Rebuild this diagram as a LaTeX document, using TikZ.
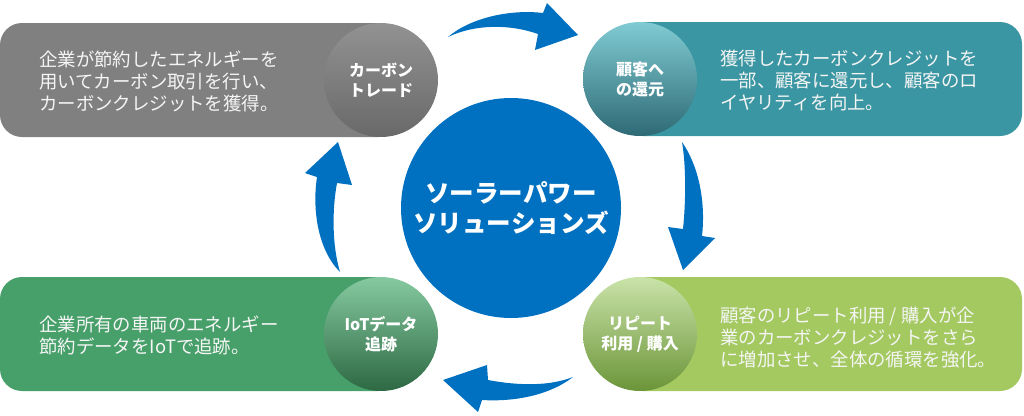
\documentclass[tikz,border=0pt]{standalone}
\usepackage{fontspec}
\setmainfont{Noto Sans CJK JP}
\definecolor{cblue}{HTML}{0070C0}
\definecolor{gpill}{HTML}{808080}
\definecolor{gtop}{HTML}{929292}
\definecolor{gbot}{HTML}{696969}
\definecolor{tpill}{HTML}{3A96A2}
\definecolor{ttop}{HTML}{80CBD3}
\definecolor{tmid}{HTML}{429FAA}
\definecolor{tbot}{HTML}{2E6A75}
\definecolor{ipill}{HTML}{47A06A}
\definecolor{itop}{HTML}{86C9A0}
\definecolor{imid}{HTML}{4DA470}
\definecolor{ibot}{HTML}{2D6943}
\definecolor{lpill}{HTML}{A3C960}
\definecolor{ltop}{HTML}{CAE3A9}
\definecolor{lmid}{HTML}{A4C865}
\definecolor{lbot}{HTML}{6B9539}
\begin{document}
\begin{tikzpicture}[x=0.75pt,y=-0.75pt,
  pill/.style={rounded corners=16.5pt},
  badge/.style={circle,inner sep=0pt,minimum size=85.5pt,text=white,
    font=\bfseries\fontsize{12}{15}\selectfont,align=center},
  body/.style={anchor=west,align=left,inner sep=0pt,text=white!96!black,
    font=\fontsize{13.8}{16.5}\selectfont},
  flow/.style={fill=cblue}]
\useasboundingbox (0,0) rectangle (1024,415);

% pills
\fill[pill,gpill] (0,23) rectangle (400,137);
\fill[pill,tpill] (621,22) rectangle (1022,136);
\fill[pill,ipill] (0,277) rectangle (400,391);
\fill[pill,lpill] (621,277) rectangle (1022,391);

% badges
\node[badge,top color=gtop,bottom color=gbot] (carbon) at (381,80) {カーボン\\トレード};
\node[badge,top color=ttop,middle color=tmid,bottom color=tbot] (refund) at (640,79) {顧客へ\\の還元};
\node[badge,top color=itop,middle color=imid,bottom color=ibot] (iot) at (381,334) {IoTデータ\\追跡};
\node[badge,top color=ltop,middle color=lmid,bottom color=lbot] (repeat) at (640,334) {リピート\\利用 / 購入};

% body texts
\node[body] (t1) at (39,81) {企業が節約したエネルギーを\\用いてカーボン取引を行い、\\カーボンクレジットを獲得。};
\node[body] (t2) at (720,80) {獲得したカーボンクレジットを\\一部、顧客に還元し、顧客のロ\\イヤリティを向上。};
\node[body] (t3) at (39,335) {企業所有の車両のエネルギー\\節約データをIoTで追跡。};
\node[body] (t4) at (720,338) {顧客のリピート利用 / 購入が企\\業のカーボンクレジットをさら\\に増加させ、全体の循環を強化。};

% center
\node[circle,fill=cblue,inner sep=0pt,minimum size=165pt,text=white,align=center,
  font=\bfseries\fontsize{18.4}{22.5}\selectfont] (hub) at (511,208) {ソーラーパワー\\ソリューションズ};

% curved block arrows
\fill[flow] (448,37) .. controls (470,18) and (510,9) .. (543,13)
  -- (547,3) -- (578,35) -- (535,50) -- (538,34)
  .. controls (510,24) and (475,24) .. (448,37) -- cycle;
\fill[flow] (682,142) .. controls (698,165) and (706,200) .. (702,236)
  -- (715,238) -- (683,270) -- (668,227) -- (683,229)
  .. controls (686,200) and (686,165) .. (682,142) -- cycle;
\fill[flow] (573,377) .. controls (550,395) and (515,402) .. (482,400)
  -- (478,412) -- (443,380) -- (487,365) -- (488,380)
  .. controls (520,386) and (550,386) .. (573,377) -- cycle;
\fill[flow] (340,272) .. controls (318,250) and (312,210) .. (317,177)
  -- (305,173) -- (338,142) -- (352,185) -- (337,183)
  .. controls (332,210) and (332,245) .. (340,272) -- cycle;
\end{tikzpicture}
\end{document}
